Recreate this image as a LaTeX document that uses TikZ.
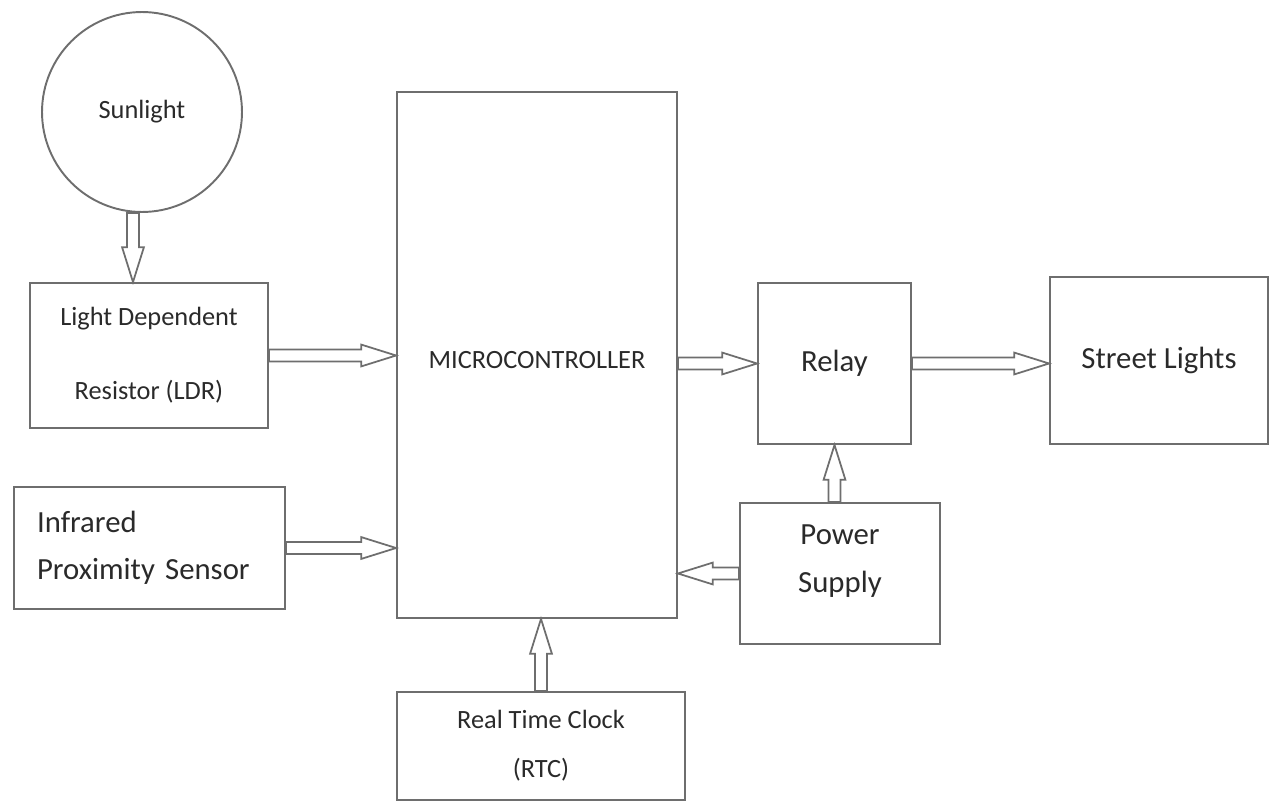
\documentclass[tikz,border=0pt]{standalone}
\usepackage{fontspec}
\setmainfont{Carlito}
\usetikzlibrary{calc}
\definecolor{linegray}{HTML}{6E6E6E}
\definecolor{inkgray}{HTML}{2A2A2A}
\tikzset{box/.style={draw=linegray,line width=1.1pt,text=inkgray,align=center,font=\fontsize{15}{18}\selectfont,inner sep=0pt}, bigbox/.style={box,font=\fontsize{17.5}{21}\selectfont}, hollow/.style={draw=linegray,line width=1pt,fill=white,line join=miter, to path={let \p1=(\tikztostart), \p2=(\tikztotarget), \n1={atan2(\y2-\y1,\x2-\x1)}, \n2={veclen(\x2-\x1,\y2-\y1)} in {[shift={(\p1)},rotate=\n1] (0pt,-3.4pt) -- (\n2-19.8pt,-3.4pt) -- (\n2-19.8pt,-6.2pt) -- (\n2,0pt) -- (\n2-19.8pt,6.2pt) -- (\n2-19.8pt,3.4pt) -- (0pt,3.4pt) -- cycle}}}}
\begin{document}
\begin{tikzpicture}[x=0.02cm,y=-0.02cm]
\useasboundingbox (0,0) rectangle (1272,801);
\node[box,circle,minimum size=4cm] (sun) at (142,112) {Sunlight};
\node[box,minimum width=4.76cm,minimum height=2.9cm] (ldr) at (149,355.5) {Light Dependent\\[24pt]Resistor (LDR)};
\node[bigbox,minimum width=5.42cm,minimum height=2.44cm,align=left,text width=4.5cm] (ir) at (149.5,548) {Infrared\\[6pt]Proximity Sensor};
\node[box,minimum width=5.6cm,minimum height=10.52cm] (mcu) at (537,355) {};
\node[box,draw=none] (mcutext) at (537,360) {MICROCONTROLLER};
\node[box,minimum width=5.76cm,minimum height=2.16cm] (rtc) at (541,746) {Real Time Clock\\[10pt](RTC)};
\node[bigbox,minimum width=3.06cm,minimum height=3.22cm] (relay) at (834.5,363.5) {Relay};
\node[bigbox,minimum width=4.36cm,minimum height=3.34cm] (street) at (1159,360.5) {Street Lights};
\node[bigbox,minimum width=4cm,minimum height=2.82cm] (power) at (840,573.5) {};
\node[bigbox,draw=none] (powertext) at (840,561) {Power\\[6pt]Supply};
% connectors
\draw[hollow] ([xshift=-9*0.02cm]sun.south) to ([xshift=-9*0.02cm]sun.south |- ldr.north);
\draw[hollow] (ldr.east) to (ldr.east -| mcu.west);
\draw[hollow] (ir.east) to (ir.east -| mcu.west);
\draw[hollow] (rtc.north) to (rtc.north |- mcu.south);
\draw[hollow] (relay.west -| mcu.east) to (relay.west);
\draw[hollow] (relay.east) to (relay.east -| street.west);
\draw[hollow] (relay.south |- power.north) to (relay.south);
\draw[hollow] (power.west) to (power.west -| mcu.east);
\end{tikzpicture}
\end{document}
